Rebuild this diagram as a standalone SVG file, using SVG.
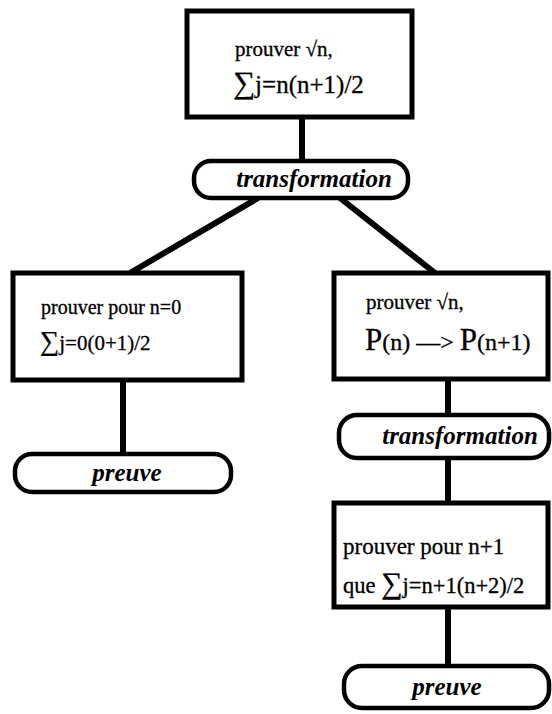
<svg xmlns="http://www.w3.org/2000/svg" width="552" height="714" viewBox="0 0 552 714">
  <style>
    .box { fill: #fff; stroke: #000; stroke-width: 5; }
    .pill { fill: #fff; stroke: #000; stroke-width: 4.5; }
    .link { stroke: #000; stroke-width: 6; fill: none; }
    .txt { font-family: "Liberation Serif", "DejaVu Serif", "Times New Roman", serif; font-size: 21px; fill: #000; stroke: #000; stroke-width: 0.3; }
    .big { font-size: 27px; }
    .op { font-family: "Liberation Serif", "DejaVu Serif", "Times New Roman", serif; font-size: 25px; font-weight: bold; font-style: italic; fill: #000; text-anchor: middle; }
  </style>
  <rect width="552" height="714" fill="#fff"/>

  <!-- connectors -->
  <g id="connectors">
    <line class="link" x1="302" y1="117" x2="302" y2="160"/>
    <line class="link" x1="258" y1="198" x2="130" y2="273"/>
    <line class="link" x1="340" y1="198" x2="435" y2="273"/>
    <line class="link" x1="123" y1="380" x2="123" y2="453"/>
    <line class="link" x1="448" y1="380" x2="448" y2="415"/>
    <line class="link" x1="448" y1="458" x2="448" y2="502"/>
    <line class="link" x1="448" y1="607" x2="448" y2="666"/>
  </g>

  <!-- root goal -->
  <g id="goal-root">
    <rect class="box" x="187" y="11" width="225" height="106"/>
    <text class="txt" x="235" y="56">prouver √n,</text>
    <text class="txt" x="233" y="93" style="font-size:25px"><tspan style="font-size:31px">∑</tspan>j=n(n+1)/2</text>
  </g>

  <g id="transform-1">
    <rect class="pill" x="194" y="161" width="214" height="37" rx="17"/>
    <text class="op" x="314" y="187">transformation</text>
  </g>

  <!-- base case -->
  <g id="goal-base">
    <rect class="box" x="13" y="273" width="229" height="107"/>
    <text class="txt" x="41" y="314" style="font-size:20px">prouver pour n=0</text>
    <text class="txt" x="40" y="350"><tspan class="big">∑</tspan>j=0(0+1)/2</text>
  </g>

  <g id="proof-base">
    <rect class="pill" x="15" y="454" width="216" height="38" rx="17"/>
    <text class="op" x="127" y="481">preuve</text>
  </g>

  <!-- inductive step -->
  <g id="goal-step">
    <rect class="box" x="334" y="273" width="214" height="106"/>
    <text class="txt" x="366" y="309">prouver √n,</text>
    <text class="txt" x="365" y="350" style="font-size:24px"><tspan style="font-size:31px">P</tspan>(n) —&gt; <tspan style="font-size:31px">P</tspan>(n+1)</text>
  </g>

  <g id="transform-2">
    <rect class="pill" x="339" y="415" width="210" height="43" rx="18"/>
    <text class="op" x="460" y="444">transformation</text>
  </g>

  <g id="goal-next">
    <rect class="box" x="334" y="503" width="214" height="104"/>
    <text class="txt" x="343" y="554" style="font-size:23px">prouver pour n+1</text>
    <text class="txt" x="343" y="593" style="font-size:22.5px">que  <tspan style="font-size:30px">∑</tspan>j=n+1(n+2)/2</text>
  </g>

  <g id="proof-next">
    <rect class="pill" x="344" y="666" width="205" height="42" rx="18"/>
    <text class="op" x="447" y="695">preuve</text>
  </g>
</svg>
